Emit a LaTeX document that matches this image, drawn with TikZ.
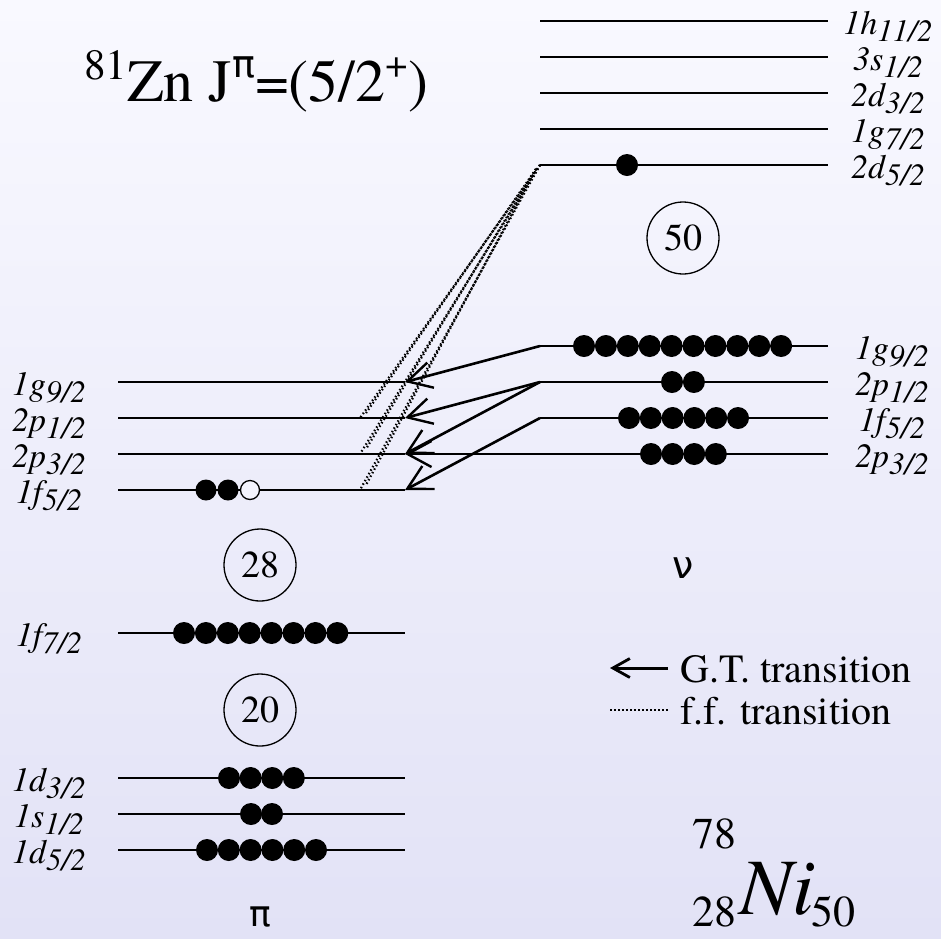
\documentclass[tikz,border=0pt]{standalone}
\usepackage{fontspec}
\IfFontExistsTF{texgyretermes-regular.otf}
  {\setmainfont{texgyretermes}[Extension=.otf,UprightFont=*-regular,ItalicFont=*-italic,BoldFont=*-bold,BoldItalicFont=*-bolditalic]}
  {}
\newfontfamily\dvs{DejaVu Sans}
\usetikzlibrary{arrows.meta}
\definecolor{bgtop}{RGB}{249,249,255}
\definecolor{bgbot}{RGB}{226,226,246}
\definecolor{holefill}{RGB}{243,243,253}
\newcommand\fs[1]{\fontsize{#1}{#1}\selectfont}
\newcommand\lv[2]{\fs{34}\itshape #1\raisebox{-7pt}{\fs{31}#2}}
\begin{document}
\begin{tikzpicture}[x=1pt,y=-1pt,
  level/.style={line width=1.6pt},
  gt/.style={line width=2.6pt,-{Straight Barb[length=24pt,width=26pt,line width=2.4pt]}},
  ff/.style={line width=2.2pt,dash pattern=on 1.5pt off 2.5pt},
  lab/.style={inner sep=0pt,anchor=center},
  magic/.style={circle,draw,line width=1.3pt,minimum size=72pt,inner sep=0pt,font=\fs{38}},
  txt/.style={inner sep=0pt}]
\shade[top color=bgtop,bottom color=bgbot] (0,0) rectangle (941,938);
\useasboundingbox (0,0) rectangle (941,938);

% ---------- neutron levels ----------
\foreach \nm/\yy in {h11/21,s1/57,d3/93,g7/129,d5/165,g9/346,p1/382,f5/418,p3/454}{
  \coordinate (nL\nm) at (540,\yy);
  \coordinate (nR\nm) at (828,\yy);
  \draw[level] (nL\nm) -- (nR\nm);
}
\node[lab] (lnh11) at (888,27) {\lv{1h}{11/2}};
\node[lab] (lns1) at (888,63) {\lv{3s}{1/2}};
\node[lab] (lnd3) at (888,99) {\lv{2d}{3/2}};
\node[lab] (lng7) at (888,135) {\lv{1g}{7/2}};
\node[lab] (lnd5) at (888,171) {\lv{2d}{5/2}};
\node[lab] (lng9) at (892,352) {\lv{1g}{9/2}};
\node[lab] (lnp1) at (892,388) {\lv{2p}{1/2}};
\node[lab] (lnf5) at (892,424) {\lv{1f}{5/2}};
\node[lab] (lnp3) at (892,460) {\lv{2p}{3/2}};

% neutron particles
\fill (627,165) circle (11pt);
\foreach \i in {0,...,9} \fill (584+\i*21.9,346) circle (11pt);
\foreach \i in {0,1} \fill (672+\i*21.9,382) circle (11pt);
\foreach \i in {0,...,5} \fill (629+\i*21.8,418) circle (11pt);
\foreach \i in {0,...,3} \fill (651+\i*21.6,454) circle (11pt);

\node[magic] (m50) at (683,238) {50};
\node[txt,font=\dvs\fs{38}] (nu) at (683,568) {ν};

% ---------- proton levels ----------
\foreach \nm/\yy in {g9/382,p1/418,p3/454,f5/490,f7/633,d3/778,s1/814,d5/850}{
  \coordinate (pL\nm) at (118,\yy);
  \coordinate (pR\nm) at (405,\yy);
  \draw[level] (pL\nm) -- (pR\nm);
}
\node[lab] (lpg9) at (49,388) {\lv{1g}{9/2}};
\node[lab] (lpp1) at (49,424) {\lv{2p}{1/2}};
\node[lab] (lpp3) at (49,460) {\lv{2p}{3/2}};
\node[lab] (lpf5) at (49,496) {\lv{1f}{5/2}};
\node[lab] (lpf7) at (49,639) {\lv{1f}{7/2}};
\node[lab] (lpd3) at (49,784) {\lv{1d}{3/2}};
\node[lab] (lps1) at (49,820) {\lv{1s}{1/2}};
\node[lab] (lpd5) at (49,856) {\lv{1d}{5/2}};

% proton particles
\fill (206,490) circle (10.5pt);
\fill (228,490) circle (10.5pt);
\draw[line width=1.3pt,fill=holefill] (250,490) circle (9.5pt);
\foreach \i in {0,...,7} \fill (184+\i*21.9,633) circle (11pt);
\foreach \i in {0,...,3} \fill (229+\i*21.6,778) circle (11pt);
\foreach \i in {0,1} \fill (251+\i*21,814) circle (11pt);
\foreach \i in {0,...,5} \fill (207+\i*21.8,850) circle (11pt);

\node[magic] (m28) at (260,565) {28};
\node[magic] (m20) at (260,710) {20};
\node[txt,font=\dvs\fs{36}] (pi) at (260,917) {π};

% ---------- first-forbidden transitions ----------
\coordinate (ffA) at (540,165);
\coordinate (ffB) at (536,169);
\coordinate (ff1a) at (360,418);
\coordinate (ff1b) at (366,413);
\coordinate (ff2a) at (360,454);
\coordinate (ff2b) at (366,449);
\coordinate (ff3a) at (360,490);
\coordinate (ff3b) at (366,485);
\draw[ff] (ffA) -- (ff1a);
\draw[ff] (ffB) -- (ff1b);
\draw[ff] (ffA) -- (ff2a);
\draw[ff] (ffB) -- (ff2b);
\draw[ff] (ffA) -- (ff3a);
\draw[ff] (ffB) -- (ff3b);

% ---------- Gamow-Teller transitions ----------
\draw[gt] (nLg9) -- (pRg9);
\draw[gt] (nLp1) -- (pRp1);
\draw[gt] (nLp1) -- (pRp3);
\draw[gt] (nLf5) -- (pRf5);
\draw[gt] (nLp3) -- (pRp3);

% ---------- legend ----------
\coordinate (lgA) at (668,668);
\coordinate (lgB) at (610,668);
\coordinate (lfA) at (610,710);
\coordinate (lfB) at (668,710);
\draw[line width=3pt,-{Straight Barb[length=17pt,width=19pt,line width=2.8pt]}] (lgA) -- (lgB);
\draw[ff] (lfA) -- (lfB);
\node[txt,anchor=west,font=\fs{40}] (lgt) at (680,669) {G.T. transition};
\node[txt,anchor=west,font=\fs{40}] (lff) at (680,711) {f.f. transition};

% ---------- titles ----------
\node[txt,anchor=base west,font=\fs{60}] (title) at (84,101)
  {\raisebox{22pt}{\fs{43}81}Zn J\raisebox{24pt}{\fs{38}\dvs π}=(5/2\raisebox{24pt}{\fs{40}+})};
\node[txt,anchor=base west,font=\fs{80}\itshape] (ni) at (739,914) {Ni};
\node[txt,anchor=base east,font=\fs{44}] (aa) at (737,848) {78};
\node[txt,anchor=base east,font=\fs{44}] (zz) at (737,926) {28};
\node[txt,anchor=base west,font=\fs{44}] (nn) at (811,926) {50};
\end{tikzpicture}
\end{document}
